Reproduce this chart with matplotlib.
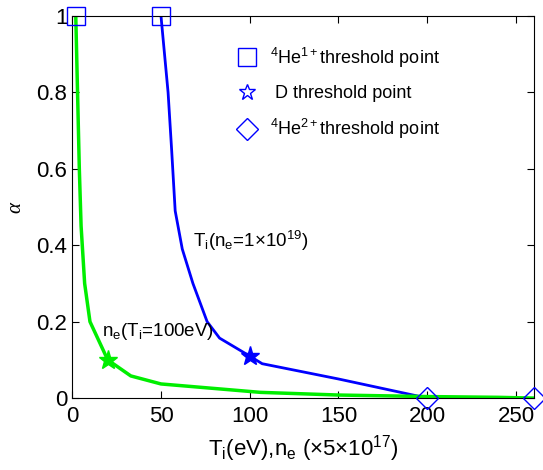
import matplotlib
matplotlib.use('Agg')
import matplotlib.pyplot as plt
from matplotlib.lines import Line2D

plt.rcParams['font.family'] = ['Liberation Sans', 'DejaVu Sans']
plt.rcParams['mathtext.fontset'] = 'custom'
plt.rcParams['mathtext.rm'] = 'Liberation Sans'
plt.rcParams['mathtext.it'] = 'Liberation Sans'

# curve data (alpha vs Ti / ne)
ti_x = [50, 54, 56, 58, 62, 68, 76, 83, 100, 107, 150, 190, 200]
ti_alpha = [1.0, 0.8, 0.65, 0.49, 0.39, 0.3, 0.2, 0.157, 0.11, 0.09, 0.05, 0.01, 0.0]

ne_x = [2, 2.5, 3, 4, 5, 7, 10, 20, 33, 50, 106, 150, 200, 240, 260]
ne_alpha = [1.0, 0.9, 0.8, 0.6, 0.45, 0.3, 0.2, 0.1, 0.058, 0.037, 0.015, 0.008, 0.004, 0.002, 0.0]

# threshold points
he1_x = [2, 50]
he1_y = [1.0, 1.0]
d_blue = (100, 0.11)
d_green = (20, 0.1)
he2_x = [200, 260]
he2_y = [0.0, 0.0]

fig = plt.figure(figsize=(5.43, 4.70), dpi=100)
ax = fig.add_axes([0.133, 0.153, 0.85, 0.813])

ax.plot(ti_x, ti_alpha, color='#0000ff', lw=2)
ax.plot(ne_x, ne_alpha, color='#00ee00', lw=2.5)

ax.plot(he1_x, he1_y, ls='none', marker='s', ms=13, mfc='none', mec='#0000ff', mew=1, clip_on=False, zorder=5)
ax.plot(he2_x, he2_y, ls='none', marker='D', ms=11, mfc='none', mec='#0000ff', mew=1, clip_on=False, zorder=5)
ax.plot(*d_blue, marker='*', ms=14, color='#0000ff', zorder=5)
ax.plot(*d_green, marker='*', ms=14, color='#00ee00', zorder=5)

ax.text(68, 0.41, r'T$_\mathrm{i}$(n$_\mathrm{e}$=1$\times$10$^{19}$)', fontsize=13.5, va='center', ha='left')
ax.text(17, 0.175, r'n$_\mathrm{e}$(T$_\mathrm{i}$=100eV)', fontsize=13.5, va='center', ha='left')

handles = [
    Line2D([], [], ls='none', marker='s', ms=13, mfc='none', mec='#0000ff', mew=1),
    Line2D([], [], ls='none', marker='*', ms=12, mfc='none', mec='#0000ff', mew=1),
    Line2D([], [], ls='none', marker='D', ms=11, mfc='none', mec='#0000ff', mew=1),
]
labels = [r'$^{4}$He$^{1+}$threshold point', r' D threshold point', r'$^{4}$He$^{2+}$threshold point']
ax.legend(handles, labels, loc='upper left', bbox_to_anchor=(0.315, 0.965), frameon=False,
          fontsize=13, labelspacing=0.85, handletextpad=0.5, handlelength=1.5)

ax.set_xlim(0, 260)
ax.set_ylim(0, 1)
ax.set_xticks([0, 50, 100, 150, 200, 250])
ax.set_yticks([0, 0.2, 0.4, 0.6, 0.8, 1])
ax.set_yticklabels(['0', '0.2', '0.4', '0.6', '0.8', '1'])
ax.tick_params(direction='in', top=True, right=True, labelsize=16, length=5)
ax.tick_params(axis='x', pad=6)
ax.set_xlabel(r'T$_\mathrm{i}$(eV),n$_\mathrm{e}$ ($\times$5$\times$10$^{17}$)', fontsize=16, labelpad=4)
ax.set_ylabel('α', fontsize=15, family='Liberation Serif', style='italic', labelpad=8)

fig.savefig('out.png')
